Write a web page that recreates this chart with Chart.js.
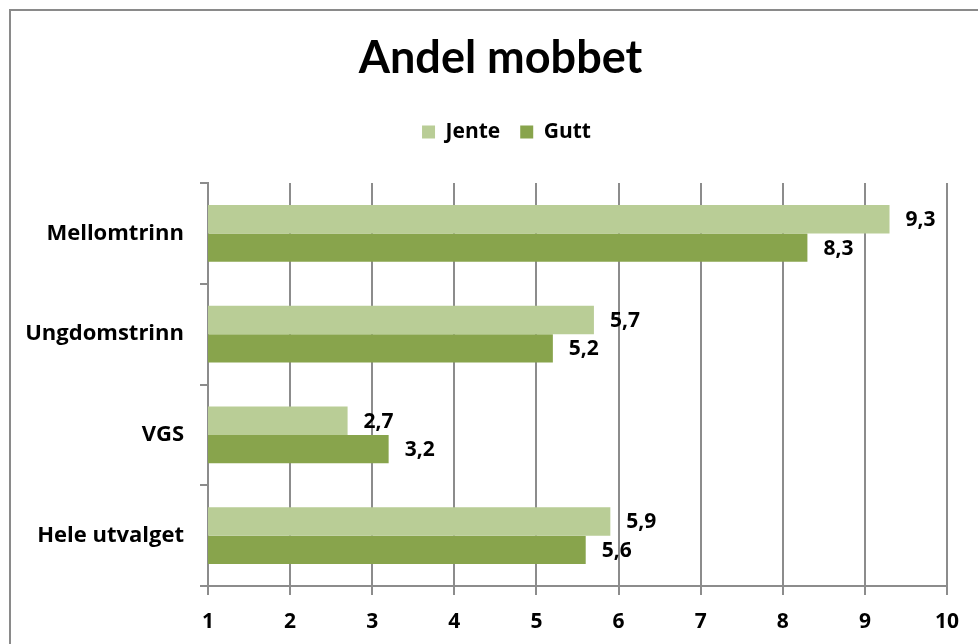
<!DOCTYPE html>
<html>
<head>
<meta charset="utf-8">
<title>Andel mobbet</title>
<script src="https://cdn.jsdelivr.net/npm/chart.js@4/dist/chart.umd.min.js"></script>
<style>
  html, body { margin: 0; padding: 0; background: #fff; }
  #wrap { width: 978px; height: 644px; position: relative; }
</style>
</head>
<body>
<div id="wrap"><canvas id="chart_andelMobbet"></canvas></div>
<script>
const categories = ['Mellomtrinn', 'Ungdomstrinn', 'VGS', 'Hele utvalget'];
const jente = [9.3, 5.7, 2.7, 5.9];
const gutt = [8.3, 5.2, 3.2, 5.6];
const xTicks = [1, 2, 3, 4, 5, 6, 7, 8, 9, 10];

const FONT = '"Open Sans", sans-serif';
const TITLE_FONT = 'Lato, "Open Sans", sans-serif';
const GRID = '#8c8c8c';

const fmt = v => v.toFixed(1).replace('.', ',');

// frame around the chart, only the top and left edges fall inside the window
const frame = {
  id: 'frame',
  beforeDraw(chart) {
    const ctx = chart.ctx;
    ctx.save();
    ctx.strokeStyle = '#8a8a8a';
    ctx.lineWidth = 2;
    ctx.strokeRect(10, 10, 1200, 1200);
    ctx.restore();
  }
};

// title and legend sit centred over the whole frame, not over the padded area
const centreHeader = {
  id: 'centreHeader',
  afterLayout(chart) {
    chart.titleBlock.left += 34;
    chart.legend.left += 46;
  }
};

// value at the end of every bar
const valueLabels = {
  id: 'valueLabels',
  afterDatasetsDraw(chart) {
    const ctx = chart.ctx;
    ctx.save();
    ctx.font = 'bold 21px ' + FONT;
    ctx.fillStyle = '#000';
    ctx.textBaseline = 'middle';
    ctx.textAlign = 'left';
    chart.data.datasets.forEach((ds, i) => {
      chart.getDatasetMeta(i).data.forEach((bar, j) => {
        ctx.fillText(fmt(ds.data[j]), bar.x + 16, bar.y + 1);
      });
    });
    ctx.restore();
  }
};

new Chart('chart_andelMobbet', {
  type: 'bar',
  data: {
    labels: categories,
    datasets: [{
      label: 'Jente',
      data: jente,
      backgroundColor: '#b9cd96',
      categoryPercentage: 0.565,
      barPercentage: 1.0
    }, {
      label: 'Gutt',
      data: gutt,
      backgroundColor: '#88a44c',
      categoryPercentage: 0.565,
      barPercentage: 1.0
    }]
  },
  options: {
    indexAxis: 'y',
    responsive: true,
    maintainAspectRatio: false,
    animation: false,
    layout: { padding: { top: 10, left: 20, right: 31, bottom: 0 } },
    plugins: {
      title: {
        display: true,
        text: 'Andel mobbet',
        color: '#000',
        font: { family: TITLE_FONT, size: 45, weight: 'bold' },
        padding: { top: 21, bottom: 16.5 }
      },
      legend: {
        display: true,
        position: 'top',
        labels: {
          color: '#000',
          font: { family: FONT, size: 21, weight: 'bold' },
          boxWidth: 13,
          boxHeight: 13,
          padding: 20
        }
      },
      // empty spacer between the legend and the plot area
      subtitle: {
        display: true,
        text: '',
        weight: 500,
        font: { size: 10 },
        padding: { top: 9, bottom: 9.5 }
      },
      tooltip: { enabled: false }
    },
    scales: {
      x: {
        min: 1,
        max: 10,
        afterBuildTicks: s => { s.ticks = xTicks.map(v => ({ value: v })); },
        grid: { color: GRID, lineWidth: 2, tickLength: 9 },
        border: { color: GRID, width: 2 },
        ticks: {
          color: '#000',
          font: { family: FONT, size: 21, weight: 'bold' },
          padding: 14
        },
        afterFit: s => { s.height = 58; }
      },
      y: {
        grid: { offset: true, drawOnChartArea: false, color: GRID, lineWidth: 2, tickLength: 8 },
        border: { color: GRID, width: 2 },
        ticks: {
          color: '#000',
          font: { family: FONT, size: 22, weight: 'bold' },
          padding: 16
        },
        afterFit: s => { s.width = 188; }
      }
    }
  },
  plugins: [frame, centreHeader, valueLabels]
});
</script>
</body>
</html>
